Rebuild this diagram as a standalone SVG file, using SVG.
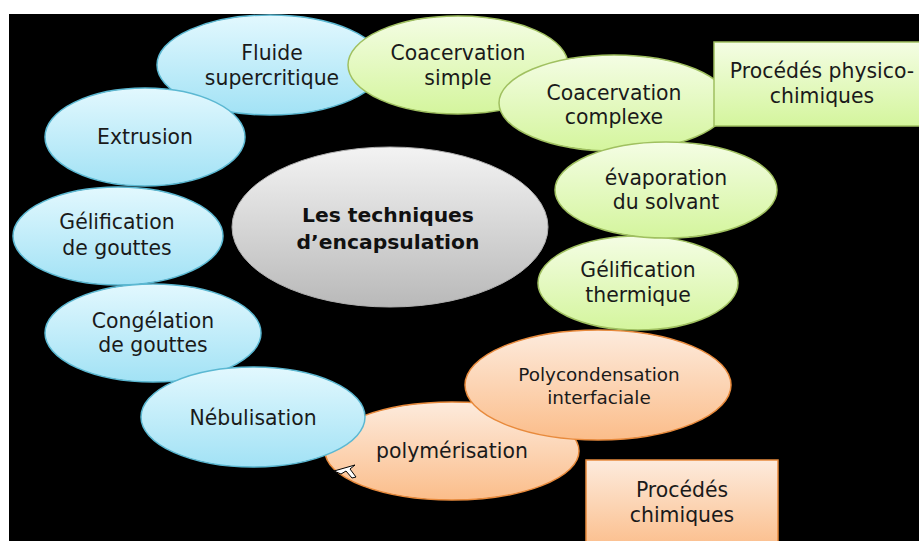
<svg xmlns="http://www.w3.org/2000/svg" width="919" height="541" viewBox="0 0 919 541">
  <defs>
    <linearGradient id="gBlue" x1="0" y1="0" x2="0" y2="1">
      <stop offset="0" stop-color="#e2f8fe"/>
      <stop offset="1" stop-color="#a2e2f5"/>
    </linearGradient>
    <linearGradient id="gGreen" x1="0" y1="0" x2="0" y2="1">
      <stop offset="0" stop-color="#f4fde4"/>
      <stop offset="1" stop-color="#d4f59d"/>
    </linearGradient>
    <linearGradient id="gOrange" x1="0" y1="0" x2="0" y2="1">
      <stop offset="0" stop-color="#fdebdd"/>
      <stop offset="1" stop-color="#fbbd8a"/>
    </linearGradient>
    <linearGradient id="gGray" x1="0" y1="0" x2="0" y2="1">
      <stop offset="0" stop-color="#f3f3f3"/>
      <stop offset="1" stop-color="#b9b9b9"/>
    </linearGradient>
  </defs>
  <style>
    .blue { fill: url(#gBlue); stroke: #5bb8d2; stroke-width: 1.5; }
    .green { fill: url(#gGreen); stroke: #a0c060; stroke-width: 1.5; }
    .orange { fill: url(#gOrange); stroke: #e88a3c; stroke-width: 1.5; }
    .gray { fill: url(#gGray); stroke: #b0b0b0; stroke-width: 1; }
    text { font-family: "DejaVu Sans", "Open Sans", sans-serif; font-size: 20.4px; fill: #1a1a1a; text-anchor: middle; }
    .small { font-size: 18.4px; }
    .title { font-size: 20.3px; font-weight: bold; fill: #111; }
  </style>

  <rect x="0" y="0" width="919" height="541" fill="#ffffff"/>
  <rect x="9" y="14" width="910" height="527" fill="#000000"/>

  <g id="center">
    <ellipse class="gray" cx="390" cy="227" rx="158" ry="80"/>
    <text class="title" x="388" y="222">Les techniques</text>
    <text class="title" x="388" y="249">d’encapsulation</text>
  </g>

  <g id="fluide">
    <ellipse class="blue" cx="270" cy="65" rx="113" ry="50"/>
    <text x="272" y="60">Fluide</text>
    <text x="272" y="85">supercritique</text>
  </g>

  <g id="extrusion">
    <ellipse class="blue" cx="145" cy="137" rx="100" ry="49"/>
    <text x="145" y="144">Extrusion</text>
  </g>

  <g id="gelif-gouttes">
    <ellipse class="blue" cx="118" cy="236" rx="105" ry="49"/>
    <text x="117" y="229">Gélification</text>
    <text x="117" y="255">de gouttes</text>
  </g>

  <g id="congelation">
    <ellipse class="blue" cx="153" cy="333" rx="108" ry="49"/>
    <text x="153" y="328">Congélation</text>
    <text x="153" y="352">de gouttes</text>
  </g>

  <g id="polymerisation">
    <ellipse class="orange" cx="452" cy="451" rx="127" ry="49"/>
    <text x="452" y="458">polymérisation</text>
  </g>

  <g id="nebulisation">
    <ellipse class="blue" cx="253" cy="417" rx="112" ry="50"/>
    <text x="253" y="425">Nébulisation</text>
  </g>

  <g id="polycondensation">
    <ellipse class="orange" cx="598" cy="385" rx="133" ry="55"/>
    <text class="small" x="599" y="381">Polycondensation</text>
    <text class="small" x="599" y="404">interfaciale</text>
  </g>

  <g id="coac-simple">
    <ellipse class="green" cx="458" cy="65" rx="110" ry="49"/>
    <text x="458" y="60">Coacervation</text>
    <text x="458" y="85">simple</text>
  </g>

  <g id="coac-complexe">
    <ellipse class="green" cx="614" cy="103" rx="115" ry="48"/>
    <text x="614" y="100">Coacervation</text>
    <text x="614" y="124">complexe</text>
  </g>

  <g id="physico-chimiques">
    <rect class="green" x="714" y="42" width="210" height="84"/>
    <text x="822" y="78">Procédés physico-</text>
    <text x="822" y="103">chimiques</text>
  </g>

  <g id="gelif-thermique">
    <ellipse class="green" cx="638" cy="283" rx="100" ry="47"/>
    <text x="638" y="277">Gélification</text>
    <text x="638" y="302">thermique</text>
  </g>

  <g id="evaporation">
    <ellipse class="green" cx="666" cy="190" rx="111" ry="48"/>
    <text x="666" y="185">évaporation</text>
    <text x="666" y="209">du solvant</text>
  </g>

  <g id="chimiques">
    <rect class="orange" x="586" y="460" width="192" height="90"/>
    <text x="682" y="497">Procédés</text>
    <text x="682" y="522">chimiques</text>
  </g>

  <!-- small pointer arrow at the lower left of the polymérisation bubble -->
  <path d="M334,471 L355,465 L350,469 L356,477 L352,478 L346,471 L341,474 Z" fill="#ffffff" stroke="#000000" stroke-width="1"/>
</svg>
